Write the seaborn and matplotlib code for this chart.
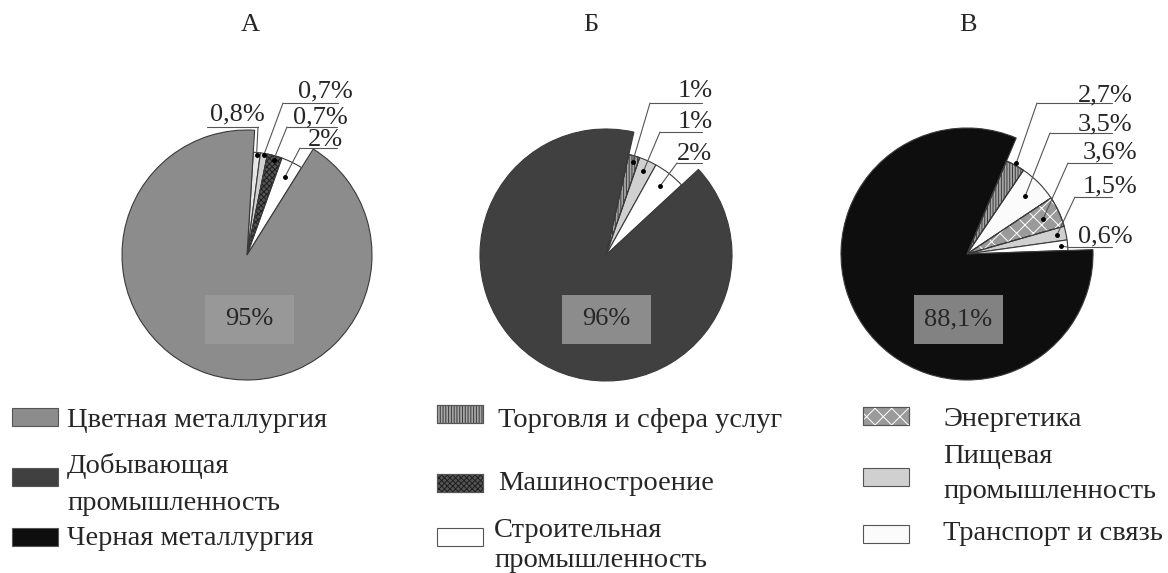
import numpy as np
import matplotlib
matplotlib.use('Agg')
import matplotlib.pyplot as plt
import seaborn as sns
from matplotlib.patches import Rectangle, Wedge

W, H = 1168, 573

titles = ['А', 'Б', 'В']

# sector sizes as drawn in the figure (degrees), small sectors first, big one last
sectors_a = [4.0, 4.0, 8.3, 12.2, 331.5]
sectors_b = [6.3, 9.9, 18.2, 325.6]
sectors_c = [11.0, 22.3, 17.7, 8.0, 6.0, 295.0]

labels_a = ['0,8%', '0,7%', '0,7%', '2%', '95%']
labels_b = ['1%', '1%', '2%', '96%']
labels_c = ['2,7%', '3,5%', '3,6%', '1,5%', '0,6%', '88,1%']

kinds_a = ['light', 'food', 'machine', 'build', 'nonferrous']
kinds_b = ['trade', 'food', 'build', 'mining']
kinds_c = ['trade', 'transport', 'energy', 'food', 'build', 'ferrous']

legend_labels = ['Цветная металлургия', 'Добывающая\nпромышленность', 'Черная металлургия',
                 'Торговля и сфера услуг', 'Машиностроение', 'Строительная\nпромышленность',
                 'Энергетика', 'Пищевая\nпромышленность', 'Транспорт и связь']
legend_kinds = ['nonferrous', 'mining', 'ferrous', 'trade', 'machine', 'build',
                'energy', 'food', 'transport']

# fill styles: face colour, hatch, hatch colour
styles = {
    'nonferrous': ('#8c8c8c', None, None),
    'mining': ('#404040', None, None),
    'ferrous': ('#0e0e0e', None, None),
    'trade': ('#a6a6a6', '||||||', '#3a3a3a'),
    'machine': ('#555555', 'xxxxxx', '#1e1e1e'),
    'build': ('#ffffff', None, None),
    'energy': ('#9a9a9a', 'xx', '#ffffff'),
    'food': ('#d0d0d0', None, None),
    'transport': ('#fbfbfb', None, None),
    'light': ('#e6e6e6', None, None),
}

# --- layout (pixel coords, y down) ---
# centre x, centre y, big radius, small radius, start angle
pie_geom = [(247, 255, 125, 103, 86.5), (606, 255, 126, 103, 77.2), (967, 254, 126, 101, 67.0)]
title_x = [250, 591, 968]
box_x = [249, 606, 958]
box_colors = ['#989898', '#8c8c8c', '#828282']
# text x, baseline y, underline x0, x1, y, attach side, dot radius
lab_pos = [
    [(237, 120, 207, 258, 127, 'right', 100), (325, 97, 283, 338, 103, 'left', 101),
     (320, 123, 287, 337, 127, 'left', 99), (325, 146, 300, 337, 148, 'left', 87)],
    [(695, 97, 650, 702, 103, 'left', 97), (695, 128, 660, 702, 132, 'left', 92),
     (694, 160, 677, 702, 163, 'left', 88)],
    [(1105, 101, 1037, 1112, 103, 'left', 103), (1105, 130, 1050, 1112, 133, 'left', 82),
     (1110, 158, 1068, 1112, 163, 'left', 84), (1110, 192, 1075, 1112, 197, 'left', 92),
     (1105, 242, 1067, 1112, 247, 'left', 94)],
]
leg_patch_x = [12, 12, 12, 437, 437, 437, 863, 863, 863]
leg_patch_cy = [417, 477, 537, 414, 483, 537, 416, 477, 534]
leg_text_x = [67, 67, 67, 498, 498, 494, 943, 943, 943]
leg_baselines = [[427], [473, 510], [545], [427], [490], [537, 567], [426], [463, 498], [540]]

sns.set_theme(style='white')
plt.rcParams['font.family'] = ['Liberation Serif', 'DejaVu Serif']
plt.rcParams['hatch.linewidth'] = 0.7
FS = 19
FS_LEG = 20.5
EDGE = '#3a3a3a'


def Y(y):
    return H - y


fig = plt.figure(figsize=(W / 100, H / 100), dpi=100)
ax = fig.add_axes([0, 0, 1, 1])

all_sectors = [sectors_a, sectors_b, sectors_c]
all_labels = [labels_a, labels_b, labels_c]
all_kinds = [kinds_a, kinds_b, kinds_c]

for i in range(3):
    cx, cy, R, r_small, start = pie_geom[i]
    kinds = all_kinds[i]
    wedges, _ = ax.pie(all_sectors[i], colors=[styles[k][0] for k in kinds],
                       startangle=start, counterclock=False,
                       center=(cx, Y(cy)), radius=R,
                       wedgeprops=dict(edgecolor=EDGE, linewidth=0.8))
    for w in wedges[:-1]:
        w.set_radius(r_small)
    for w, k in zip(wedges, kinds):
        fc, hatch, hc = styles[k]
        if hatch:
            ax.add_patch(Wedge(w.center, w.r, w.theta1, w.theta2, facecolor='none',
                               edgecolor=hc, linewidth=0, hatch=hatch))
            ax.add_patch(Wedge(w.center, w.r, w.theta1, w.theta2, facecolor='none',
                               edgecolor=EDGE, linewidth=0.8))

    # small-sector labels with leader lines
    for w, lab, pos in zip(wedges[:-1], all_labels[i][:-1], lab_pos[i]):
        tx, tb, x0, x1, ly, side, dr = pos
        mid = np.deg2rad((w.theta1 + w.theta2) / 2)
        dx, dy = cx + dr * np.cos(mid), Y(cy) + dr * np.sin(mid)
        ax.text(tx, Y(tb), lab, ha='center', va='baseline', fontsize=FS)
        ax.plot([x0, x1], [Y(ly), Y(ly)], color='#555555', lw=0.8)
        ex = x0 if side == 'left' else x1
        ax.plot([ex, dx], [Y(ly), dy], color='#555555', lw=0.8)
        ax.plot(dx, dy, 'o', color='black', ms=2.5)

    # big-sector label in a box
    bx, by = box_x[i], 319
    ax.add_patch(Rectangle((bx - 44.5, Y(by) - 24.5), 89, 49, facecolor=box_colors[i],
                           edgecolor='none', zorder=3))
    ax.text(bx, Y(by), all_labels[i][-1], ha='center', va='center', fontsize=FS, zorder=4)

    ax.text(title_x[i], Y(25), titles[i], ha='center', va='center', fontsize=FS)

# legend
for lab, k, px, pcy, tx, bls in zip(legend_labels, legend_kinds, leg_patch_x, leg_patch_cy,
                                    leg_text_x, leg_baselines):
    fc, hatch, hc = styles[k]
    ax.add_patch(Rectangle((px, Y(pcy) - 9), 46, 18, facecolor=fc, edgecolor='#555555', lw=0.8))
    if hatch:
        ax.add_patch(Rectangle((px, Y(pcy) - 9), 46, 18, facecolor='none', edgecolor=hc,
                               lw=0, hatch=hatch))
        ax.add_patch(Rectangle((px, Y(pcy) - 9), 46, 18, facecolor='none', edgecolor='#555555',
                               lw=0.8))
    for line, bl in zip(lab.split('\n'), bls):
        ax.text(tx, Y(bl), line, ha='left', va='baseline', fontsize=FS_LEG)

ax.set_xlim(0, W)
ax.set_ylim(0, H)
ax.set_aspect('auto')
ax.axis('off')

fig.savefig('out.png', dpi=100)
